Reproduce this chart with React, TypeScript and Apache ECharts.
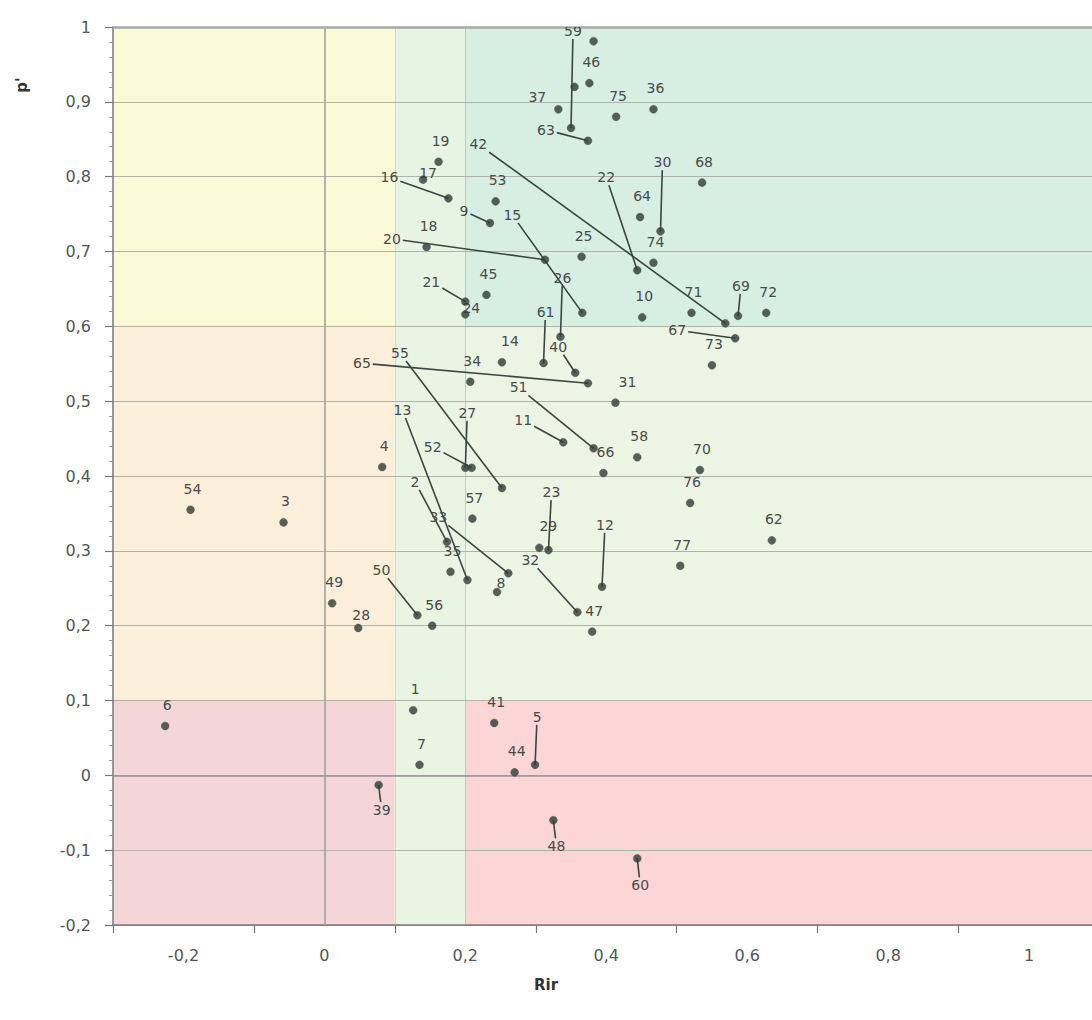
import React, { useEffect, useRef } from 'react';
import * as echarts from 'echarts';

// ---- data ----
const pointIds = [
  '1', '2', '3', '4', '5', '6', '7', '8', '9', '10',
  '11', '12', '13', '14', '15', '16', '17', '18', '19', '20',
  '21', '22', '23', '24', '25', '26', '27', '28', '29', '30',
  '31', '32', '33', '34', '35', '36', '37', '38', '39', '40',
  '41', '42', '43', '44', '45', '46', '47', '48', '49', '50',
  '51', '52', '53', '54', '55', '56', '57', '58', '59', '60',
  '61', '62', '63', '64', '65', '66', '67', '68', '69', '70',
  '71', '72', '73', '74', '75', '76', '77',
];

const rirValues = [
  0.126, 0.174, -0.058, 0.082, 0.299, -0.226, 0.135, 0.245, 0.235, 0.451,
  0.339, 0.394, 0.203, 0.252, 0.366, 0.176, 0.140, 0.145, 0.162, 0.313,
  0.200, 0.444, 0.318, 0.200, 0.365, 0.335, 0.200, 0.048, 0.305, 0.477,
  0.413, 0.359, 0.261, 0.207, 0.179, 0.467, 0.332, 0.355, 0.077, 0.356,
  0.241, 0.569, 0.382, 0.270, 0.230, 0.376, 0.380, 0.325, 0.011, 0.132,
  0.382, 0.209, 0.243, -0.190, 0.252, 0.153, 0.210, 0.444, 0.350, 0.444,
  0.311, 0.635, 0.374, 0.448, 0.374, 0.396, 0.583, 0.536, 0.587, 0.533,
  0.521, 0.627, 0.550, 0.467, 0.414, 0.519, 0.505,
];

const pValues = [
  0.087, 0.312, 0.338, 0.412, 0.014, 0.066, 0.014, 0.245, 0.738, 0.612,
  0.445, 0.252, 0.261, 0.552, 0.618, 0.771, 0.796, 0.706, 0.820, 0.689,
  0.633, 0.675, 0.301, 0.616, 0.693, 0.586, 0.411, 0.197, 0.304, 0.727,
  0.498, 0.218, 0.270, 0.526, 0.272, 0.890, 0.890, 0.920, -0.013, 0.538,
  0.070, 0.604, 0.981, 0.004, 0.642, 0.925, 0.192, -0.060, 0.230, 0.214,
  0.437, 0.411, 0.767, 0.355, 0.384, 0.200, 0.343, 0.425, 0.865, -0.111,
  0.551, 0.314, 0.848, 0.746, 0.524, 0.404, 0.584, 0.792, 0.614, 0.408,
  0.618, 0.618, 0.548, 0.685, 0.880, 0.364, 0.280,
];

// zone boundaries (axis values)
const zoneXBreaks = [-0.3, 0.1, 0.2, 1.1];
const zoneYBreaks = [-0.2, 0.1, 0.6, 1.0];

// ---- layout / style (not data) ----
// label offset in px relative to point: [dx, dy, hasLeaderLine]; null = hidden label
const D: [number, number, number] = [2, -21, 0];
const labelPlacement: ([number, number, number] | null)[] = [
  D, [-32, -60, 1], D, D, [2, -48, 1], D, D, [4, -9, 0], [-26, -12, 1], D,
  [-40, -22, 1], [3, -62, 1], [-65, -170, 1], [8, -21, 0], [-70, -98, 1], [-59, -21, 1], [5, -7, 0], D, D, [-153, -21, 1],
  [-34, -20, 1], [-31, -93, 1], [3, -58, 1], [6, -6, 0], D, [2, -59, 1], [2, -55, 1], [3, -13, 0], [9, -22, 0], [2, -69, 1],
  [12, -21, 0], [-47, -52, 1], [-70, -56, 1], D, D, D, [-21, -12, 0], null, [3, 25, 1], [-17, -26, 1],
  D, [-247, -179, 1], null, D, D, D, D, [3, 26, 1], D, [-36, -45, 1],
  [-75, -61, 1], [-39, -21, 1], D, D, [-102, -135, 1], D, D, D, [2, -97, 1], [3, 27, 1],
  [2, -51, 1], D, [-42, -11, 1], D, [-226, -20, 1], D, [-58, -8, 1], D, [3, -30, 1], D,
  D, D, D, D, D, D, D,
];

// zone colours: rows from bottom (y) to top, columns left to right (x)
const zoneColors = [
  ['#f4d6d9', '#e9f4e3', '#fcd6d7'],
  ['#fcefd9', '#e9f4e3', '#ecf5e3'],
  ['#fbfad6', '#e7f4e3', '#d6efe2'],
];

const FONT = '"DejaVu Sans", Verdana, sans-serif';

const fmt = (v: number) => {
  const r = Math.round(v * 10) / 10;
  return String(r).replace('.', ',');
};

export default function App() {
  const ref = useRef<HTMLDivElement>(null);

  useEffect(() => {
    if (!ref.current) return;
    const chart = echarts.init(ref.current, undefined, { renderer: 'svg' });

    const zones: number[][] = [];
    for (let r = 0; r < 3; r++) {
      for (let c = 0; c < 3; c++) {
        zones.push([zoneXBreaks[c], zoneYBreaks[r], zoneXBreaks[c + 1], zoneYBreaks[r + 1], r, c]);
      }
    }

    const pointData = pointIds.map((_, i) => [rirValues[i], pValues[i], i]);

    const option: any = {
      animation: false,
      grid: { left: 113, top: 27, width: 986.5, height: 898, containLabel: false, outerBoundsMode: 'none' },
      xAxis: [
        {
          type: 'value', min: -0.3, max: 1.1, interval: 0.2, position: 'bottom',
          axisLine: { show: true, onZero: false, lineStyle: { color: '#777', width: 1.5 } },
          axisTick: { show: true, length: 8, lineStyle: { color: '#777', width: 1.2 } },
          axisLabel: { show: false },
          splitLine: { show: false },
        },
        {
          type: 'value', min: -0.3, max: 1.1, interval: 0.1, position: 'bottom',
          axisLine: { show: false, onZero: false },
          axisTick: { show: false },
          axisLabel: {
            margin: 22, color: '#555', fontSize: 16, fontFamily: FONT,
            formatter: (v: number) => {
              const k = Math.round(v * 10);
              return k % 2 === 0 ? fmt(v) : '';
            },
          },
          splitLine: { show: false },
        },
      ],
      yAxis: {
        type: 'value', min: -0.2, max: 1, interval: 0.1,
        axisLine: { show: true, onZero: false, lineStyle: { color: '#777', width: 1.5 } },
        axisTick: { show: true, length: 8, lineStyle: { color: '#777', width: 1.2 } },
        minorTick: { show: true, splitNumber: 5, length: 4, lineStyle: { color: '#999' } },
        axisLabel: { margin: 22, color: '#555', fontSize: 16, fontFamily: FONT, formatter: fmt },
        splitLine: { show: true, lineStyle: { color: '#b2b2aa', width: 1.2 } },
      },
      graphic: [
        {
          type: 'text', x: 546, y: 985,
          style: { text: 'Rir', font: `bold 15px ${FONT}`, fill: '#333', align: 'center', verticalAlign: 'middle' },
        },
        {
          type: 'text', x: 22, y: 85, rotation: Math.PI / 2,
          style: { text: "p'", font: `bold 15px ${FONT}`, fill: '#333', align: 'center', verticalAlign: 'middle' },
        },
      ],
      series: [
        {
          type: 'custom',
          name: 'zones',
          z: -1,
          silent: true,
          xAxisIndex: 0,
          data: zones,
          encode: { x: [0, 2], y: [1, 3] },
          renderItem: (params: any, api: any) => {
            const p0 = api.coord([api.value(0), api.value(1)]);
            const p1 = api.coord([api.value(2), api.value(3)]);
            const color = zoneColors[api.value(4)][api.value(5)];
            return {
              type: 'rect',
              shape: { x: p0[0], y: p1[1], width: p1[0] - p0[0], height: p0[1] - p1[1] },
              style: { fill: color },
            };
          },
        },
        {
          type: 'custom',
          name: 'labels',
          z: 3,
          silent: true,
          clip: true,
          xAxisIndex: 0,
          data: pointData,
          encode: { x: 0, y: 1 },
          renderItem: (params: any, api: any) => {
            const i = api.value(2);
            const pl = labelPlacement[i];
            if (!pl) return { type: 'group', children: [] };
            const p = api.coord([api.value(0), api.value(1)]);
            const cx = p[0] + pl[0];
            const cy = p[1] + pl[1];
            const text = pointIds[i];
            const w = text.length * 8.9 + 2;
            const h = 14;
            const children: any[] = [];
            if (pl[2]) {
              const vx = p[0] - cx;
              const vy = p[1] - cy;
              const sx = Math.abs(vx) > 0.01 ? (w / 2 + 1) / Math.abs(vx) : Infinity;
              const sy = Math.abs(vy) > 0.01 ? (h / 2 + 1) / Math.abs(vy) : Infinity;
              const s = Math.min(sx, sy, 1);
              children.push({
                type: 'line',
                shape: { x1: cx + vx * s, y1: cy + vy * s, x2: p[0], y2: p[1] },
                style: { stroke: '#3a4641', lineWidth: 1.6 },
              });
            }
            children.push({
              type: 'text', x: cx, y: cy,
              style: { text, fill: '#4a4a4a', font: `14px ${FONT}`, align: 'center', verticalAlign: 'middle' },
            });
            return { type: 'group', children };
          },
        },
        {
          type: 'scatter',
          name: 'points',
          z: 4,
          xAxisIndex: 0,
          symbolSize: 8,
          itemStyle: { color: '#2e3a35', borderColor: '#55605a', borderWidth: 0.5 },
          data: pointData,
          markLine: {
            silent: true, symbol: 'none', label: { show: false },
            z: 1,
            data: [
              { xAxis: 0, lineStyle: { color: '#9c9c98', width: 1.5, type: 'solid' } },
              { xAxis: 0.1, lineStyle: { color: 'rgba(180,195,180,0.5)', width: 1, type: 'solid' } },
              { xAxis: 0.2, lineStyle: { color: 'rgba(160,180,160,0.6)', width: 1, type: 'solid' } },
              { yAxis: 0, lineStyle: { color: '#9a9494', width: 1.5, type: 'solid' } },
              { yAxis: 1, lineStyle: { color: '#a8a8a4', width: 2.5, type: 'solid' } },
            ],
          },
        },
      ],
    };

    chart.setOption(option);
    return () => chart.dispose();
  }, []);

  return (
    <div
      ref={ref}
      style={{ position: 'fixed', left: 0, top: 0, width: 1092, height: 1020, background: '#fff' }}
    />
  );
}
